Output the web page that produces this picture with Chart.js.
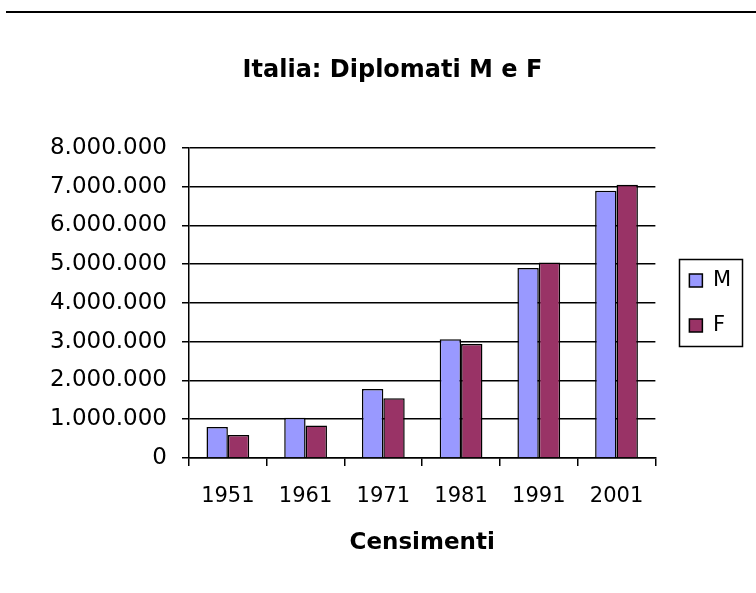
<!DOCTYPE html>
<html lang="it">
<head>
<meta charset="utf-8">
<title>Italia: Diplomati M e F</title>
<script src="https://cdn.jsdelivr.net/npm/chart.js@4.4.1/dist/chart.umd.min.js"></script>
<style>
  html, body { margin: 0; padding: 0; background: #fff; }
  #wrap { position: relative; width: 756px; height: 593px; }
  #rule { position: absolute; left: 6px; top: 11px; width: 750px; height: 2px; background: #000; }
  canvas { position: absolute; left: 0; top: 0; }
</style>
</head>
<body>
<div id="wrap">
  <canvas id="chart" width="756" height="593"></canvas>
  <div id="rule"></div>
</div>
<script>
// Diplomati per censimento, maschi e femmine
const anni = ["1951", "1961", "1971", "1981", "1991", "2001"];
const maschi = [800000, 1040000, 1780000, 3060000, 4900000, 6890000];
const femmine = [590000, 840000, 1540000, 2940000, 5040000, 7050000];

const FONT = "'DejaVu Sans', sans-serif";

function migliaia(v) {
  return String(Math.round(v)).replace(/\B(?=(\d{3})+(?!\d))/g, ".");
}

// cornice attorno alla legenda, come nel grafico originale
const LegendFrame = {
  id: "legendFrame",
  afterDraw(chart) {
    const hb = chart.legend && chart.legend.legendHitBoxes;
    if (!hb || !hb.length) return;
    const l = Math.min(...hb.map((h) => h.left)) - 10;
    const r = Math.max(...hb.map((h) => h.left + h.width)) + 11;
    const t = hb[0].top - 11;
    const last = hb[hb.length - 1];
    const b = last.top + last.height + 10;
    const ctx = chart.ctx;
    ctx.save();
    ctx.strokeStyle = "#000";
    ctx.lineWidth = 1.5;
    ctx.strokeRect(Math.round(l) + 0.5, Math.round(t) + 0.5, Math.round(r - l), Math.round(b - t));
    ctx.restore();
  },
};

new Chart(document.getElementById("chart"), {
  type: "bar",
  data: {
    labels: anni,
    datasets: [
      {
        label: "M",
        data: maschi,
        backgroundColor: "#9999FF",
        borderColor: "#000",
        borderWidth: 1.5,
        categoryPercentage: 0.55,
        barPercentage: 1,
      },
      {
        label: "F",
        data: femmine,
        backgroundColor: "#993366",
        borderColor: "#000",
        borderWidth: 1.5,
        categoryPercentage: 0.55,
        barPercentage: 1,
      },
    ],
  },
  plugins: [LegendFrame],
  options: {
    responsive: false,
    animation: false,
    layout: { padding: { left: 44, right: 15, top: 0, bottom: 0 } },
    plugins: {
      title: {
        display: true,
        text: "Italia: Diplomati M e F",
        color: "#000",
        font: { family: FONT, size: 24, weight: "bold" },
        padding: { top: 56, bottom: 63 },
      },
      legend: {
        position: "right",
        fullSize: false,
        labels: {
          color: "#000",
          font: { family: FONT, size: 21 },
          boxWidth: 13,
          boxHeight: 13,
          padding: 24,
        },
      },
      tooltip: { enabled: false },
    },
    scales: {
      x: {
        offset: true,
        grid: { offset: true, drawOnChartArea: false, color: "#000", tickLength: 8, lineWidth: 1.5 },
        border: { color: "#000", width: 1.5 },
        ticks: { color: "#000", font: { family: FONT, size: 21 }, padding: 18, maxRotation: 0 },
        title: {
          display: true,
          text: "Censimenti",
          color: "#000",
          font: { family: FONT, size: 23, weight: "bold" },
          padding: { top: 0, bottom: 36 },
        },
        afterFit: (s) => { s.height = 135; },
      },
      y: {
        min: 0,
        max: 8000000,
        ticks: {
          stepSize: 1000000,
          color: "#000",
          font: { family: FONT, size: 23 },
          padding: 15,
          callback: (v) => migliaia(v),
        },
        grid: { color: "#000", lineWidth: 1.5, tickLength: 7 },
        border: { color: "#000", width: 1.5 },
        afterFit: (s) => { s.width = 145; },
      },
      gap: {
        type: "linear",
        position: "right",
        display: true,
        grid: { display: false, drawTicks: false },
        border: { display: false },
        ticks: { display: false },
        afterFit: (s) => { s.width = 10; },
      },
    },
  },
});
</script>
</body>
</html>
